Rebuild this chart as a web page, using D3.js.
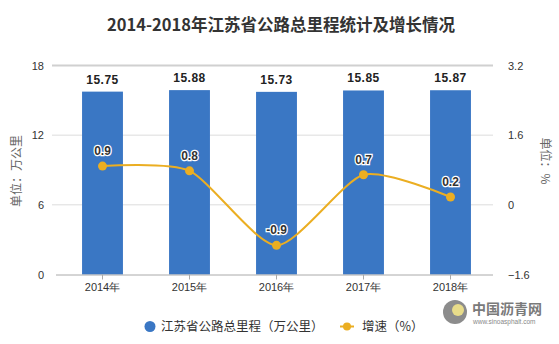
<!DOCTYPE html>
<html><head><meta charset="utf-8">
<script src="https://cdn.jsdelivr.net/npm/d3@7/dist/d3.min.js"></script>
<style>body{margin:0;background:#fff}svg{display:block;font-family:"Microsoft YaHei","Noto Sans CJK SC",sans-serif}</style>
</head><body><svg id="c" width="559" height="344"></svg>
<script>
const years = ["2014年","2015年","2016年","2017年","2018年"];
const mileage = [15.75, 15.88, 15.73, 15.85, 15.87];
const growth = [0.89, 0.78, -0.93, 0.69, 0.18];
const growthLabels = ["0.9","0.8","-0.9","0.7","0.2"];
const leftTicks = [0, 6, 12, 18];
const rightTicks = [-1.6, 0, 1.6, 3.2];

const svg = d3.select("#c");
const blue = "#3a77c4", yellow = "#ebae22";
const x = d3.scaleBand().domain(years).range([59, 494]).paddingInner(0.53).paddingOuter(0.265);
const yL = d3.scaleLinear().domain([0, 18]).range([274.5, 65.5]);
const yR = d3.scaleLinear().domain([-1.6, 3.2]).range([274.5, 65.5]);

// title
svg.append("text").attr("x", 281).attr("y", 31).attr("text-anchor", "middle")
  .attr("font-size", 16.5).attr("font-weight", "bold").attr("fill", "#333")
  .text("2014-2018年江苏省公路总里程统计及增长情况");

// gridlines
svg.append("g").selectAll("line").data(leftTicks.slice(1, 3)).join("line")
  .attr("x1", 52).attr("x2", 493).attr("y1", d => yL(d)).attr("y2", d => yL(d))
  .attr("stroke", "#dcdcdc").attr("stroke-width", 1);
svg.append("line").attr("x1", 52).attr("x2", 493).attr("y1", yL(18)).attr("y2", yL(18))
  .attr("stroke", "#d0d0d0").attr("stroke-width", 2);

// left axis
const gL = svg.append("g").attr("transform", "translate(50,0)")
  .call(d3.axisLeft(yL).tickValues(leftTicks).tickSize(0).tickPadding(6));
gL.select(".domain").remove();
gL.selectAll("text").attr("font-size", 11).attr("fill", "#333").attr("font-family", "Liberation Sans, Arial, sans-serif");

// right axis
const gR = svg.append("g").attr("transform", "translate(502,0)")
  .call(d3.axisRight(yR).tickValues(rightTicks).tickSize(0).tickPadding(6).tickFormat(d3.format(".1~f")));
gR.select(".domain").remove();
gR.selectAll("text").attr("font-size", 11).attr("fill", "#333").attr("font-family", "Liberation Sans, Arial, sans-serif");

// bars
svg.append("g").selectAll("rect").data(years).join("rect")
  .attr("x", d => x(d)).attr("width", x.bandwidth())
  .attr("y", (d, i) => yL(mileage[i])).attr("height", (d, i) => yL(0) - yL(mileage[i]))
  .attr("fill", blue);
svg.append("g").selectAll("text").data(years).join("text")
  .attr("x", d => x(d) + x.bandwidth() / 2).attr("y", (d, i) => yL(mileage[i]) - 8)
  .attr("text-anchor", "middle").attr("font-size", 12).attr("font-weight", "bold")
  .attr("fill", "#222").attr("font-family", "Liberation Sans, Arial, sans-serif")
  .attr("letter-spacing", 0.5)
  .text((d, i) => mileage[i].toFixed(2));

// x axis
const gX = svg.append("g").attr("transform", `translate(0,${yL(0)})`)
  .call(d3.axisBottom(x).tickSize(5).tickPadding(4).tickSizeOuter(0));
gX.select(".domain").attr("d", "M56,0.5H493").attr("stroke", "#aaa");
gX.selectAll(".tick line").attr("stroke", "#aaa");
gX.selectAll("text").attr("font-size", 11).attr("fill", "#333");

// line
const cx = (d, i) => x(years[i]) + x.bandwidth() / 2;
const line = d3.line().x(cx).y(d => yR(d)).curve(d3.curveCardinal.tension(0.3));
svg.append("path").datum(growth).attr("d", line).attr("fill", "none")
  .attr("stroke", yellow).attr("stroke-width", 2);
svg.append("g").selectAll("circle").data(growth).join("circle")
  .attr("cx", cx).attr("cy", d => yR(d)).attr("r", 4.5).attr("fill", yellow);
svg.append("g").selectAll("text").data(growth).join("text")
  .attr("x", cx).attr("y", d => yR(d) - 11)
  .attr("text-anchor", "middle").attr("font-size", 12).attr("font-weight", "bold")
  .attr("fill", "#333").attr("stroke", "#fff").attr("stroke-width", 2.5).attr("paint-order", "stroke")
  .attr("font-family", "Liberation Sans, Arial, sans-serif")
  .text((d, i) => growthLabels[i]);

// axis titles
svg.append("text").attr("transform", "translate(21,171) rotate(-90)").attr("text-anchor", "middle")
  .attr("font-size", 12).attr("fill", "#666").text("单位：万公里");
svg.append("text").attr("transform", "translate(541,161) rotate(90)").attr("text-anchor", "middle")
  .attr("font-size", 12).attr("fill", "#666").text("单位：%");

// legend
svg.append("circle").attr("cx", 150).attr("cy", 326.5).attr("r", 5.5).attr("fill", blue);
svg.append("text").attr("x", 161).attr("y", 331).attr("font-size", 12.5).attr("fill", "#333")
  .text("江苏省公路总里程（万公里）");
svg.append("line").attr("x1", 340).attr("x2", 354).attr("y1", 326.5).attr("y2", 326.5)
  .attr("stroke", yellow).attr("stroke-width", 2);
svg.append("circle").attr("cx", 347).attr("cy", 326.5).attr("r", 4).attr("fill", yellow);
svg.append("text").attr("x", 362).attr("y", 331).attr("font-size", 12.5).attr("fill", "#333")
  .text("增速（%）");

// source logo
svg.append("circle").attr("cx", 455).attr("cy", 312).attr("r", 12).attr("fill", "#8c8c8c");
svg.append("circle").attr("cx", 458).attr("cy", 310).attr("r", 6).attr("fill", "#e8dc8a");
svg.append("text").attr("x", 472).attr("y", 314).attr("font-size", 14).attr("font-weight", "bold")
  .attr("fill", "#7a7a7a").text("中国沥青网");
svg.append("text").attr("x", 473).attr("y", 324).attr("font-size", 6.5)
  .attr("fill", "#888").attr("font-family", "Liberation Sans, Arial, sans-serif").text("www.sinoasphalt.com");
</script></body></html>
